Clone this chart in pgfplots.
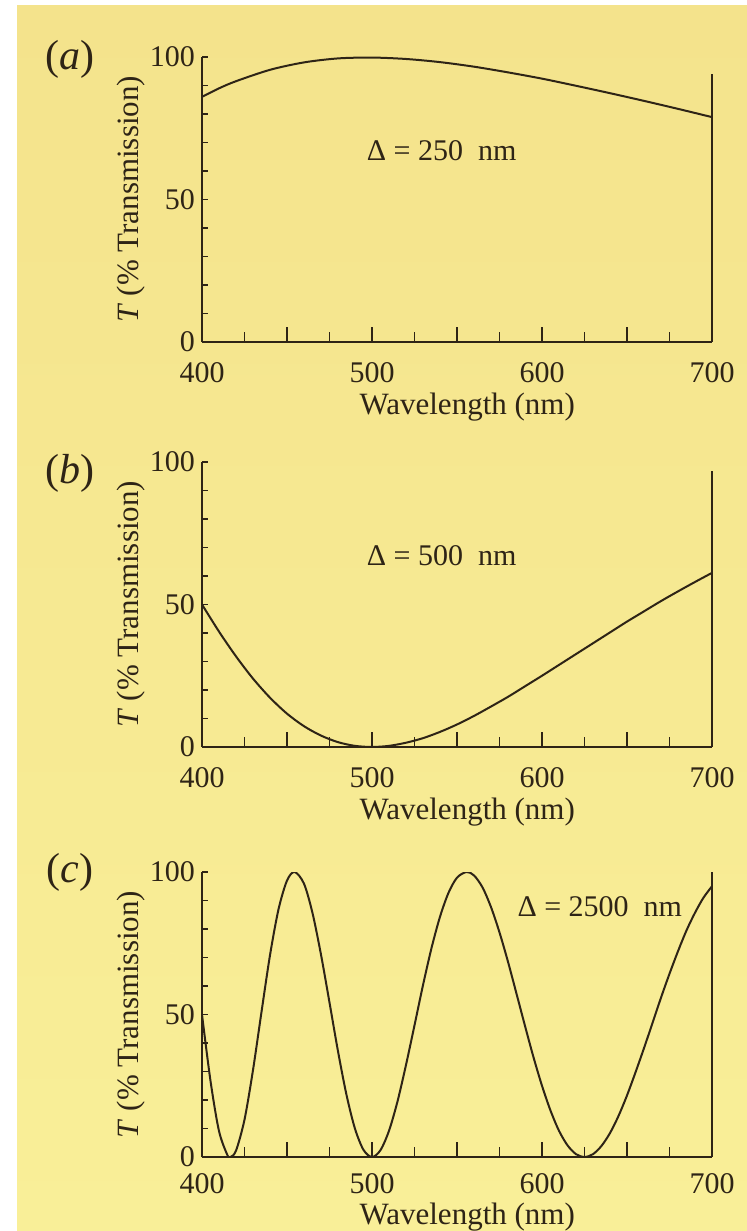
\documentclass[border=0pt]{standalone}
\usepackage{fontspec}
\setmainfont{Liberation Serif}
\usepackage{pgfplots}
\usepackage{pgfplotstable}
\pgfplotsset{compat=1.18}

\definecolor{papertop}{HTML}{F4E38C}
\definecolor{paperbot}{HTML}{F9EF98}
\definecolor{ink}{HTML}{2E2416}

% transmission curves (wavelength nm, T %)
\pgfplotstableread{
lam T
400 86.0
410 89.0
420 91.5
440 95.5
460 98.1
480 99.5
500 99.8
520 99.3
540 98.2
560 96.6
580 94.6
600 92.4
620 89.9
640 87.3
660 84.6
680 81.8
700 78.9
}\dataA

\pgfplotstableread{
lam T
400 50.0
410 40.5
420 31.8
430 24.0
440 17.3
450 11.7
460 7.3
470 4.0
480 1.7
490 0.4
500 0.0
510 0.4
520 1.5
530 3.1
540 5.3
550 7.9
560 10.9
570 14.2
580 17.6
590 21.3
600 25.0
610 28.8
620 32.6
630 36.4
640 40.2
650 44.0
660 47.6
670 51.2
680 54.6
690 57.9
700 61.1
}\dataB

\pgfplotstableread{
lam T
400 50.0
405 26.7
410 9.1
415 0.6
416.7 0.0
420 2.2
425 13.1
430 30.5
435 50.9
440 70.8
445 86.9
450 97.0
454.5 100.0
460 95.9
465 85.6
470 71.0
475 54.2
480 37.1
485 21.8
490 9.9
495 2.5
500 0.0
505 2.4
510 9.2
515 19.5
520 32.3
525 46.2
530 60.3
535 73.3
540 84.3
545 92.7
550 98.0
555.6 100.0
560 98.8
565 94.6
570 87.7
575 78.8
580 68.5
585 57.3
590 46.0
595 35.0
600 25.0
605 16.3
610 9.2
615 4.1
620 1.0
625 0.0
630 1.0
635 3.9
640 8.4
645 14.4
650 21.6
655 29.7
660 38.2
665 47.0
670 55.9
675 64.3
680 72.2
685 79.5
690 85.7
695 91.0
700 95.0
}\dataC

\tikzset{
  rightline/.style={draw=ink, line width=1.1pt},
  tag/.style={font=\fontsize{21}{23}\selectfont, text=ink},
  delta/.style={font=\fontsize{15}{17}\selectfont, text=ink},
}

\pgfplotsset{
  panel/.style={
    scale only axis,
    width=255pt, height=142.5pt,
    anchor=south west,
    clip mode=individual,
    xmin=400, xmax=700, ymin=0, ymax=100,
    axis x line=bottom, axis y line=left,
    axis line style={-, draw=ink, line width=1.1pt},
    tick align=inside,
    tick style={draw=ink, line width=0.7pt},
    major tick length=7.5pt, minor tick length=5pt,
    xtick={400,450,...,700},
    xticklabels={400,,500,,600,,700},
    minor xtick={425,475,...,675},
    ytick={0,50,100},
    minor ytick={10,20,30,40,60,70,80,90},
    y tick style={/pgfplots/major tick length=3pt,/pgfplots/minor tick length=3pt},
    /pgf/number format/assume math mode=true,
    tick label style={font=\fontsize{15}{17}\selectfont, text=ink},
    xticklabel style={anchor=center, yshift=-15.5pt},
    xlabel={Wavelength (nm)},
    ylabel={\textit{T} (\% Transmission)},
    label style={font=\fontsize{15.5}{17}\selectfont, text=ink},
    xlabel style={at={(axis description cs:0.52,-0.23)}, anchor=center},
    ylabel style={at={(axis description cs:-0.139,0.5)}, anchor=center},
  },
  curve/.style={draw=ink, line width=1.0pt, no marks, smooth, tension=0.5},
}

\begin{document}
\begin{tikzpicture}
\useasboundingbox (0,0) rectangle (373.5pt,615.5pt);
\fill[white] (0,0) rectangle (373.5pt,615.5pt);
\shade[top color=papertop, bottom color=paperbot] (8.5pt,0) rectangle (373.5pt,612.5pt);

% (a)
\begin{axis}[panel, at={(101pt,444.5pt)}]
\addplot[curve] table[x=lam,y=T] {\dataA};
\draw[rightline] (axis cs:700,0) -- (axis cs:700,94);
\node[delta] at (axis cs:541,67) {Δ = 250~~nm};
\node[tag] at (axis description cs:-0.259,0.99) {(\textit{a})};
\end{axis}

% (b)
\begin{axis}[panel, at={(101pt,242pt)}]
\addplot[curve] table[x=lam,y=T] {\dataB};
\draw[rightline] (axis cs:700,0) -- (axis cs:700,97);
\node[delta] at (axis cs:541,67) {Δ = 500~~nm};
\node[tag] at (axis description cs:-0.259,0.96) {(\textit{b})};
\end{axis}

% (c)
\begin{axis}[panel, at={(101pt,37pt)},
  xticklabel style={yshift=2pt},
  xlabel style={at={(axis description cs:0.52,-0.212)}}]
\addplot[curve] table[x=lam,y=T] {\dataC};
\draw[rightline] (axis cs:700,0) -- (axis cs:700,100);
\node[delta] at (axis cs:634,88) {Δ = 2500~~nm};
\node[tag] at (axis description cs:-0.259,1.0) {(\textit{c})};
\end{axis}
\end{tikzpicture}
\end{document}
